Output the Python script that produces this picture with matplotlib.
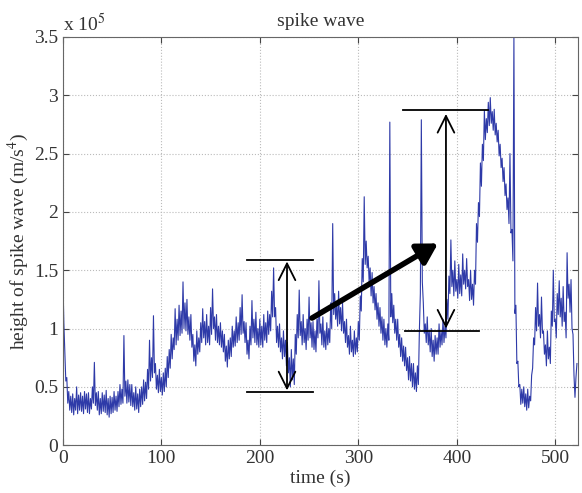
import numpy as np
import matplotlib
matplotlib.use("Agg")
from matplotlib import pyplot as plt

# spike wave height, units of 1e5 m/s^4, one sample per second from t = 0 s
height = [
    1.45, 1.05, 0.80, 0.55, 0.58, 0.36, 0.46, 0.30, 0.42, 0.28,
    0.44, 0.26, 0.40, 0.30, 0.50, 0.27, 0.43, 0.30, 0.45, 0.29,
    0.42, 0.27, 0.46, 0.31, 0.44, 0.28, 0.45, 0.27, 0.40, 0.31,
    0.50, 0.36, 0.71, 0.34, 0.45, 0.30, 0.46, 0.26, 0.40, 0.27,
    0.45, 0.29, 0.43, 0.28, 0.47, 0.26, 0.40, 0.24, 0.42, 0.27,
    0.41, 0.28, 0.46, 0.30, 0.42, 0.29, 0.46, 0.33, 0.52, 0.35,
    0.48, 0.36, 0.94, 0.42, 0.55, 0.36, 0.56, 0.37, 0.52, 0.34,
    0.52, 0.33, 0.45, 0.30, 0.50, 0.31, 0.44, 0.28, 0.48, 0.33,
    0.50, 0.35, 0.56, 0.38, 0.54, 0.40, 0.65, 0.48, 0.90, 0.55,
    0.75, 0.58, 1.11, 0.62, 0.70, 0.48, 0.60, 0.45, 0.65, 0.46,
    0.58, 0.43, 0.62, 0.46, 0.66, 0.50, 0.76, 0.58, 0.82, 0.66,
    0.95, 0.74, 0.92, 0.82, 1.17, 0.86, 1.08, 0.90, 1.20, 0.94,
    1.15, 0.96, 1.40, 1.00, 1.22, 0.98, 1.25, 0.95, 1.10, 0.90,
    1.12, 0.84, 0.95, 0.72, 0.86, 0.68, 0.98, 0.78, 0.92, 0.80,
    1.05, 0.88, 1.17, 0.92, 1.06, 0.86, 1.12, 0.88, 1.02, 0.86,
    1.18, 0.95, 1.34, 1.00, 1.10, 0.90, 1.12, 0.88, 1.02, 0.86,
    1.05, 0.84, 0.98, 0.80, 0.95, 0.72, 0.85, 0.67, 0.90, 0.74,
    0.92, 0.76, 1.02, 0.84, 0.98, 0.85, 1.10, 0.88, 1.05, 0.90,
    1.18, 0.95, 1.29, 0.96, 1.06, 0.88, 1.05, 0.78, 0.90, 0.74,
    1.02, 0.86, 1.24, 0.92, 1.08, 0.88, 1.14, 0.86, 1.00, 0.84,
    1.08, 0.86, 1.02, 0.84, 1.12, 0.90, 1.05, 0.88, 1.15, 0.95,
    1.12, 0.98, 1.32, 1.10, 1.52, 1.10, 1.18, 0.88, 1.02, 0.84,
    1.04, 0.80, 0.92, 0.74, 0.98, 0.76, 0.90, 0.68, 0.88, 0.62,
    0.75, 0.50, 0.82, 0.56, 0.74, 0.52, 0.95, 0.78, 1.12, 0.92,
    1.33, 0.94, 1.06, 0.86, 1.12, 0.88, 1.00, 0.82, 1.08, 0.90,
    1.27, 0.92, 1.05, 0.84, 1.06, 0.82, 0.98, 0.80, 1.08, 0.92,
    1.41, 0.96, 1.04, 0.86, 1.10, 0.84, 0.98, 0.82, 1.05, 0.86,
    1.00, 0.88, 1.22, 1.00, 1.90, 1.12, 1.30, 1.08, 1.20, 1.02,
    1.32, 1.04, 1.18, 0.98, 1.22, 0.96, 1.06, 0.88, 1.08, 0.84,
    0.94, 0.78, 1.02, 0.80, 0.90, 0.76, 0.98, 0.78, 0.92, 0.80,
    1.06, 0.90, 1.28, 1.15, 1.60, 1.40, 2.13, 1.55, 1.75, 1.52,
    1.62, 1.40, 1.52, 1.28, 1.48, 1.22, 1.36, 1.16, 1.30, 1.08,
    1.22, 1.02, 1.18, 0.96, 1.10, 0.90, 1.08, 0.86, 1.00, 0.84,
    1.04, 0.90, 2.77, 1.10, 1.30, 1.05, 1.20, 0.96, 1.08, 0.90,
    1.08, 0.84, 0.95, 0.76, 0.92, 0.72, 0.85, 0.68, 0.84, 0.64,
    0.75, 0.56, 0.76, 0.55, 0.70, 0.50, 0.70, 0.48, 0.62, 0.46,
    0.68, 0.52, 0.98, 1.30, 2.79, 1.40, 1.22, 0.96, 1.04, 0.88,
    1.10, 0.86, 0.98, 0.80, 1.00, 0.76, 0.90, 0.72, 0.94, 0.78,
    0.92, 0.78, 1.04, 0.84, 0.98, 0.86, 1.08, 0.88, 1.02, 0.92,
    1.25, 1.08, 1.45, 1.30, 1.76, 1.36, 1.50, 1.28, 1.58, 1.32,
    1.42, 1.26, 1.55, 1.30, 1.46, 1.28, 1.64, 1.38, 1.50, 1.34,
    1.60, 1.36, 1.42, 1.24, 1.50, 1.25, 1.38, 1.20, 1.50, 1.38,
    1.90, 1.74, 2.08, 1.96, 2.42, 2.22, 2.58, 2.44, 2.87, 2.62,
    2.80, 2.68, 2.94, 2.74, 2.98, 2.76, 2.86, 2.70, 2.88, 2.66,
    2.76, 2.60, 2.70, 2.48, 2.58, 2.38, 2.46, 2.26, 2.38, 2.14,
    2.24, 2.02, 2.12, 1.90, 2.50, 1.82, 1.85, 1.58, 3.50, 1.13,
    1.20, 0.70, 0.72, 0.50, 0.52, 0.35, 0.48, 0.36, 0.50, 0.33,
    0.44, 0.30, 0.48, 0.32, 0.42, 0.38, 0.60, 0.66, 0.92, 0.86,
    1.18, 0.98, 1.39, 1.02, 1.12, 0.92, 1.27, 0.96, 0.98, 0.78,
    0.86, 0.68, 0.98, 0.74, 0.84, 0.70, 1.15, 1.02, 1.50, 1.06,
    1.08, 0.92, 1.30, 1.12, 1.41, 1.10, 1.26, 1.02, 1.36, 1.06,
    1.14, 0.92, 1.65, 1.26, 1.38, 1.14, 1.42, 1.00, 0.95, 0.60,
    0.41, 0.58, 0.70,
]
time = np.arange(len(height))

plt.rcParams['font.family'] = ['Liberation Serif', 'DejaVu Serif']
plt.rcParams['mathtext.fontset'] = 'stix'

fig = plt.figure(figsize=(5.82, 4.93), dpi=100)
ax = fig.add_axes([0.108, 0.097, 0.885, 0.828])

ax.plot(time, height, color='#2e3aa8', lw=0.8)

ax.set_xlim(0, 523)
ax.set_ylim(0, 3.5)
ax.set_xticks([0, 100, 200, 300, 400, 500])
ax.set_yticks([0, 0.5, 1, 1.5, 2, 2.5, 3, 3.5])
ax.set_yticklabels(['0', '0.5', '1', '1.5', '2', '2.5', '3', '3.5'])
ax.tick_params(direction='in', top=True, right=True, labelsize=14,
               colors='#444444', labelcolor='#333333', length=4)
for s in ax.spines.values():
    s.set_color('#666666')
ax.grid(True, linestyle=':', color='#bbbbbb', lw=0.8)

ax.set_title('spike wave', fontsize=14, color='#333333', pad=8)
ax.set_xlabel('time (s)', fontsize=14, color='#333333', labelpad=2)
ax.set_ylabel('height of spike wave (m/s$^4$)', fontsize=14, color='#333333', labelpad=2)
ax.text(0.0, 1.005, 'x 10$^5$', transform=ax.transAxes, fontsize=14,
        color='#333333', ha='left', va='bottom')

# brackets and arrows
dbl = '<->,head_length=0.5,head_width=0.25'
ax.plot([187, 254], [1.59, 1.59], color='black', lw=1.3)
ax.plot([187, 254], [0.455, 0.455], color='black', lw=1.3)
ax.annotate('', xy=(227.6, 0.47), xytext=(227.6, 1.575),
            arrowprops=dict(arrowstyle=dbl, color='black', lw=1.3, mutation_scale=24,
                            shrinkA=0, shrinkB=0))

ax.plot([345.5, 432], [2.87, 2.87], color='black', lw=1.3)
ax.plot([347.6, 423], [0.98, 0.98], color='black', lw=1.3)
ax.annotate('', xy=(389, 1.0), xytext=(389, 2.84),
            arrowprops=dict(arrowstyle=dbl, color='black', lw=1.3, mutation_scale=24,
                            shrinkA=0, shrinkB=0))

ax.annotate('', xy=(381, 1.73), xytext=(253, 1.09),
            arrowprops=dict(arrowstyle='-|>,head_length=0.6,head_width=0.35', color='black',
                            lw=4, mutation_scale=20, shrinkA=0, shrinkB=0))

fig.savefig('out.png', dpi=100)
